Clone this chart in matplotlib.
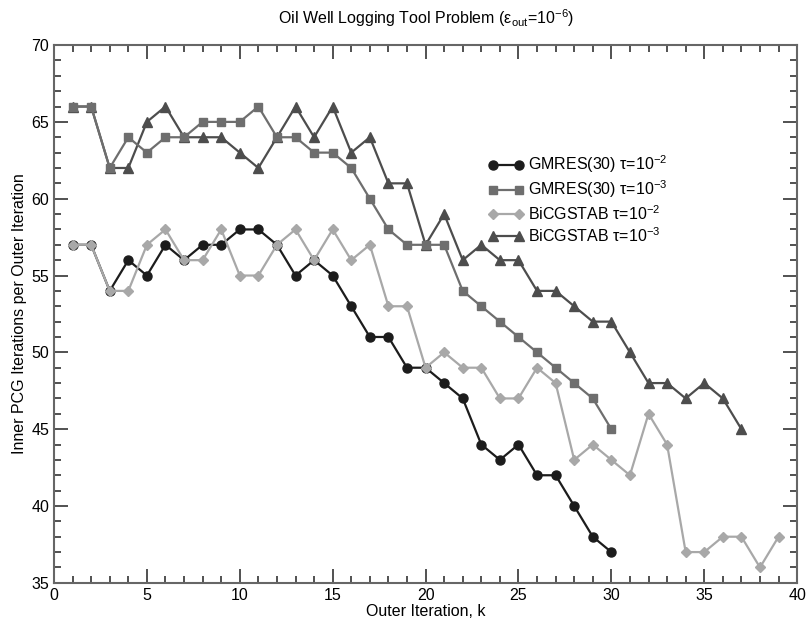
import numpy as np
import matplotlib
matplotlib.use("Agg")
import matplotlib.pyplot as plt
from matplotlib.ticker import MultipleLocator

plt.rcParams['font.family'] = ['Liberation Sans', 'DejaVu Sans']
plt.rcParams['mathtext.fontset'] = 'custom'
plt.rcParams['mathtext.rm'] = 'Liberation Sans'
plt.rcParams['mathtext.it'] = 'Liberation Sans:italic'

# inner iterations per outer iteration
gmres_2 = [57, 57, 54, 56, 55, 57, 56, 57, 57, 58, 58, 57, 55, 56, 55, 53, 51, 51,
           49, 49, 48, 47, 44, 43, 44, 42, 42, 40, 38, 37]
gmres_3 = [66, 66, 62, 64, 63, 64, 64, 65, 65, 65, 66, 64, 64, 63, 63, 62, 60, 58,
           57, 57, 57, 54, 53, 52, 51, 50, 49, 48, 47, 45]
bicg_2 = [57, 57, 54, 54, 57, 58, 56, 56, 58, 55, 55, 57, 58, 56, 58, 56, 57, 53,
          53, 49, 50, 49, 49, 47, 47, 49, 48, 43, 44, 43, 42, 46, 44, 37, 37, 38,
          38, 36, 38]
bicg_3 = [66, 66, 62, 62, 65, 66, 64, 64, 64, 63, 62, 64, 66, 64, 66, 63, 64, 61,
          61, 57, 59, 56, 57, 56, 56, 54, 54, 53, 52, 52, 50, 48, 48, 47, 48, 47, 45]

labels = ['GMRES(30) τ=10$^{-2}$', 'GMRES(30) τ=10$^{-3}$',
          'BiCGSTAB τ=10$^{-2}$', 'BiCGSTAB τ=10$^{-3}$']

fs = 11.5

fig = plt.figure(figsize=(8.06, 6.26), dpi=100)
ax = fig.add_axes([0.067, 0.069, 0.922, 0.859])

ax.plot(np.arange(1, len(gmres_2) + 1), gmres_2, color='#1c1c1c', lw=1.6,
        marker='o', ms=6.5, label=labels[0], zorder=4)
ax.plot(np.arange(1, len(gmres_3) + 1), gmres_3, color='#6e6e6e', lw=1.6,
        marker='s', ms=5.5, label=labels[1], zorder=3)
ax.plot(np.arange(1, len(bicg_2) + 1), bicg_2, color='#a8a8a8', lw=1.6,
        marker='D', ms=5, label=labels[2], zorder=5)
ax.plot(np.arange(1, len(bicg_3) + 1), bicg_3, color='#4d4d4d', lw=1.6,
        marker='^', ms=6.5, label=labels[3], zorder=2)

ax.set_xlim(0, 40)
ax.set_ylim(35, 70)
ax.xaxis.set_major_locator(MultipleLocator(5))
ax.xaxis.set_minor_locator(MultipleLocator(1))
ax.yaxis.set_major_locator(MultipleLocator(5))
ax.yaxis.set_minor_locator(MultipleLocator(1))
ax.tick_params(which='both', direction='in', top=True, right=True,
               color='#333333', labelsize=fs)
ax.tick_params(which='major', length=10, width=1.2)
ax.tick_params(which='minor', length=5, width=1.2)
for sp in ax.spines.values():
    sp.set_color('#666666')
    sp.set_linewidth(1.5)

ax.set_xlabel('Outer Iteration, k', fontsize=fs, labelpad=1)
ax.set_ylabel('Inner PCG Iterations per Outer Iteration', fontsize=fs, labelpad=3)
ax.set_title('Oil Well Logging Tool Problem (ε$_{\\rm out}$=10$^{-6}$)',
             fontsize=fs, pad=15)

ax.legend(loc='upper left', bbox_to_anchor=(0.565, 0.825), frameon=False,
          numpoints=2, handlelength=2.2, labelspacing=0.22, fontsize=fs,
          handletextpad=0.3)

fig.savefig('out.png', dpi=100)
